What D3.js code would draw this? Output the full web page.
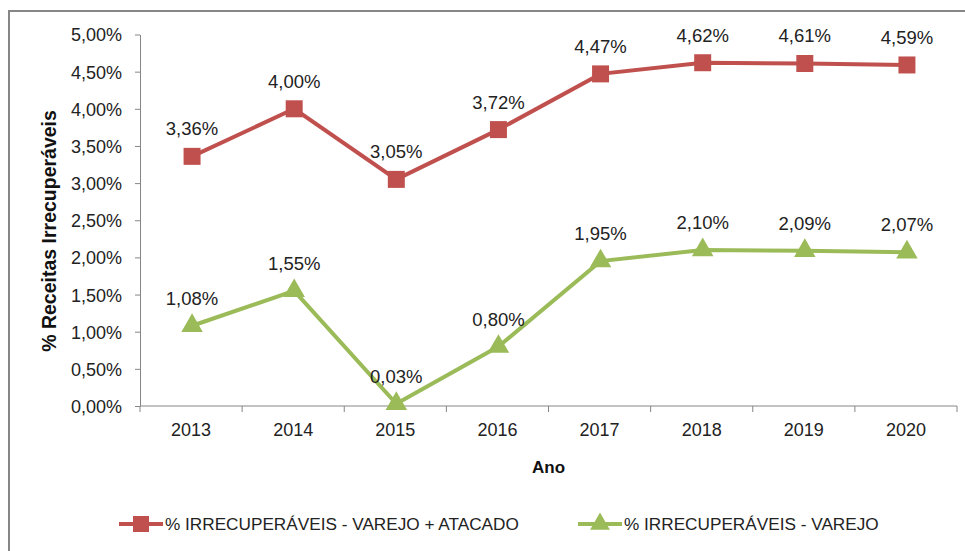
<!DOCTYPE html>
<html>
<head>
<meta charset="utf-8">
<script src="https://cdn.jsdelivr.net/npm/d3@7"></script>
<style>
  body { margin: 0; background: #fff; }
  svg { display: block; font-family: "Liberation Sans", Arial, sans-serif; }
  .axis path, .axis line { stroke: #868686; }
  .axis text { fill: #222; font-size: 18px; }
</style>
</head>
<body>
<div id="chart"></div>
<script>
var years = ["2013", "2014", "2015", "2016", "2017", "2018", "2019", "2020"];
var varejoAtacado = [3.36, 4.00, 3.05, 3.72, 4.47, 4.62, 4.61, 4.59];
var varejo = [1.08, 1.55, 0.03, 0.80, 1.95, 2.10, 2.09, 2.07];
var yTicks = [0, 0.5, 1, 1.5, 2, 2.5, 3, 3.5, 4, 4.5, 5];
var seriesNames = ["% IRRECUPERÁVEIS - VAREJO + ATACADO", "% IRRECUPERÁVEIS - VAREJO"];

var width = 965, height = 551;
var margin = { top: 34.5, right: 8, bottom: 145, left: 140 };
var w = width - margin.left - margin.right;
var h = height - margin.top - margin.bottom;

var fmt = function (v) { return v.toFixed(2).replace(".", ",") + "%"; };

var svg = d3.select("#chart").append("svg").attr("width", width).attr("height", height);

// outer frame
svg.append("rect")
    .attr("x", 9).attr("y", 11)
    .attr("width", 970).attr("height", 560)
    .attr("fill", "none").attr("stroke", "#868686").attr("stroke-width", 2);

var g = svg.append("g").attr("transform", "translate(" + margin.left + "," + margin.top + ")");

var x = d3.scaleBand().domain(years).range([0, w]);
var y = d3.scaleLinear().domain([0, 5]).range([h, 0]);
var cx = function (d, i) { return x(years[i]) + x.bandwidth() / 2 + 1; };

// y axis
g.append("g")
    .attr("class", "axis")
    .call(d3.axisLeft(y).tickValues(yTicks).tickFormat(fmt).tickSize(5).tickSizeOuter(0).tickPadding(13))
    .selectAll("text").attr("dy", "0.36em");

// x axis: ticks at band edges
var xa = g.append("g")
    .attr("class", "axis")
    .attr("transform", "translate(0," + h + ")");
xa.append("line").attr("x1", 0).attr("x2", w).attr("stroke", "#868686");
xa.selectAll(".edge")
  .data(d3.range(years.length + 1))
  .enter().append("line")
    .attr("x1", function (i) { return i * x.bandwidth(); })
    .attr("x2", function (i) { return i * x.bandwidth(); })
    .attr("y1", 0).attr("y2", 6)
    .attr("stroke", "#868686");
xa.selectAll(".lab")
  .data(years)
  .enter().append("text")
    .attr("x", function (d) { return x(d) + x.bandwidth() / 2; })
    .attr("y", 30)
    .attr("text-anchor", "middle")
    .text(function (d) { return d; });

// axis titles
g.append("text")
    .attr("x", w / 2).attr("y", h + 67)
    .attr("text-anchor", "middle")
    .attr("font-weight", "bold").attr("font-size", 17).attr("fill", "#111")
    .text("Ano");

svg.append("text")
    .attr("transform", "translate(56,231) rotate(-90)")
    .attr("text-anchor", "middle")
    .attr("font-weight", "bold").attr("font-size", 19.5).attr("fill", "#111")
    .text("% Receitas Irrecuperáveis");

var line = d3.line().x(cx).y(function (d) { return y(d); });

var red = "#C0504D", green = "#9BBB59";

function drawSeries(values, color, shape) {
    g.append("path")
        .datum(values)
        .attr("fill", "none")
        .attr("stroke", color)
        .attr("stroke-width", 4)
        .attr("d", line);

    g.selectAll(null)
      .data(values)
      .enter().append("path")
        .attr("transform", function (d, i) { return "translate(" + cx(d, i) + "," + y(d) + ")"; })
        .attr("d", d3.symbol().type(shape).size(shape === d3.symbolSquare ? 289 : 200))
        .attr("fill", color);

    g.selectAll(null)
      .data(values)
      .enter().append("text")
        .attr("x", cx)
        .attr("y", function (d) { return y(d) - 21; })
        .attr("text-anchor", "middle")
        .attr("font-size", 18.5).attr("fill", "#222")
        .text(fmt);
}

drawSeries(varejoAtacado, red, d3.symbolSquare);
drawSeries(varejo, green, d3.symbolTriangle);

// legend
var legend = svg.append("g");
var legendX = [119, 578];
var legendColors = [red, green];
var legendShapes = [d3.symbolSquare, d3.symbolTriangle];
seriesNames.forEach(function (name, i) {
    var lg = legend.append("g").attr("transform", "translate(" + legendX[i] + ",524)");
    lg.append("line").attr("x1", 0).attr("x2", 44).attr("stroke", legendColors[i]).attr("stroke-width", 4);
    lg.append("path")
        .attr("transform", "translate(22,0)")
        .attr("d", d3.symbol().type(legendShapes[i]).size(i === 0 ? 256 : 170))
        .attr("fill", legendColors[i]);
    lg.append("text")
        .attr("x", 46).attr("dy", "0.36em")
        .attr("font-size", 17.2).attr("fill", "#222")
        .text(name);
});
</script>
</body>
</html>
